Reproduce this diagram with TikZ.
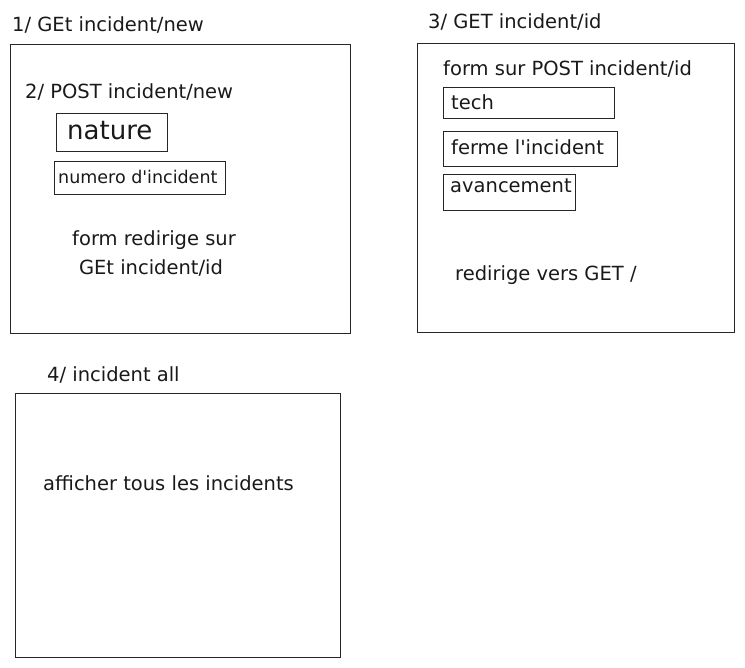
\documentclass[tikz,border=0pt]{standalone}
\usepackage{fontspec}
\setmainfont{DejaVu Sans}
\begin{document}
\begin{tikzpicture}[x=1pt,y=-1pt,
  field/.style={draw=black!85, line width=1.1pt, rectangle, inner sep=0pt, anchor=north west},
  txt/.style={anchor=west, inner sep=0pt, font=\fontsize{19.5}{21}\selectfont, text=black!90},
  small/.style={anchor=west, inner sep=0pt, font=\fontsize{17.5}{19}\selectfont, text=black!90},
  big/.style={anchor=west, inner sep=0pt, font=\fontsize{26}{28}\selectfont, text=black!90}]
\useasboundingbox (0,0) rectangle (745,668);
% page 1
\node[txt] (t1) at (12,25) {1/ GEt incident/new};
\node[field, minimum width=340, minimum height=289] (p1) at (10,44) {};
\node[txt] (t2) at (25,92) {2/ POST incident/new};
\node[field, minimum width=111, minimum height=38] (nature) at (56,113) {};
\node[big] (naturetxt) at (67,131) {nature};
\node[field, minimum width=171, minimum height=33] (numero) at (54,161) {};
\node[small] (numerotxt) at (58,177) {numero d\textquotesingle incident};
\node[txt, anchor=center] (redir1) at (154,240) {form redirige sur};
\node[txt, anchor=center] (redir2) at (151,268) {GEt incident/id};
% page 3
\node[txt] (t3) at (428,22) {3/ GET incident/id};
\node[field, minimum width=317, minimum height=289] (p3) at (417,43) {};
\node[txt] (formpost) at (443,69) {form sur POST incident/id};
\node[field, minimum width=171, minimum height=31] (tech) at (443,87) {};
\node[txt] (techtxt) at (451,102) {tech};
\node[field, minimum width=174, minimum height=35] (ferme) at (443,131) {};
\node[txt] (fermetxt) at (451,147) {ferme l\textquotesingle incident};
\node[field, minimum width=132, minimum height=36] (avanc) at (443,174) {};
\node[txt] (avanctxt) at (450,186) {avancement};
\node[txt] (redir3) at (455,275) {redirige vers GET /};
% page 4
\node[txt] (t4) at (47,375) {4/ incident all};
\node[field, minimum width=325, minimum height=264] (p4) at (15,393) {};
\node[txt] (all) at (43,483) {afficher tous les incidents};
\end{tikzpicture}
\end{document}
